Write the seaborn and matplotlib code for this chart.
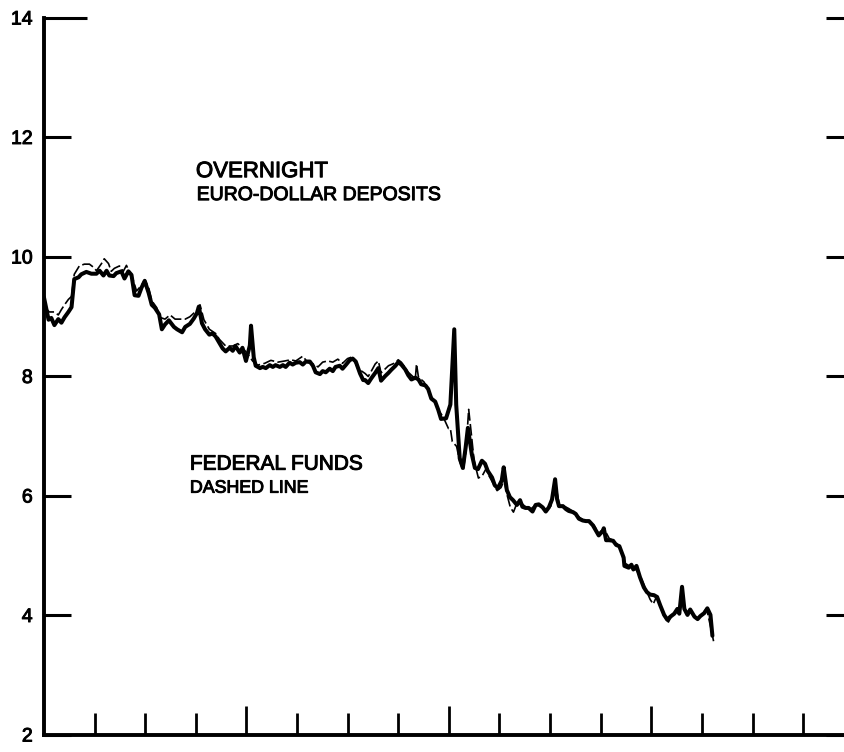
import matplotlib
matplotlib.use("Agg")
import matplotlib.pyplot as plt
import matplotlib.patheffects as pe
import pandas as pd
import seaborn as sns

# x is weeks from the start of the chart; axis ticks are quarters (13 weeks)
euro_weeks = [0.0, 1.2, 1.9, 2.7, 3.7, 4.5, 5.3, 6.3, 7.1, 7.8,
              8.9, 9.6, 10.9, 12.2, 13.5, 14.3, 15.3, 16.1, 16.8, 17.9,
              18.6, 19.9, 20.7, 21.7, 22.5, 23.3, 24.3, 25.1, 25.9, 26.9,
              27.7, 28.5, 29.6, 30.3, 31.1, 32.1, 33.4, 34.2, 35.5, 36.3,
              37.5, 38.5, 39.3, 39.8, 40.6, 41.4, 42.5, 43.3, 44.1, 45.1,
              45.9, 46.7, 47.7, 48.5, 49.2, 50.3, 51.0, 51.9, 52.9, 53.2,
              53.9, 54.4, 55.5, 56.2, 57.0, 58.0, 58.8, 59.5, 60.6, 61.4,
              62.1, 63.1, 63.9, 64.7, 65.7, 66.5, 67.3, 68.3, 69.1, 69.8,
              70.9, 71.6, 72.4, 73.4, 74.2, 74.9, 76.0, 76.7, 77.5, 78.5,
              79.3, 80.1, 81.2, 82.0, 82.5, 83.3, 84.1, 85.1, 85.9, 86.6,
              87.7, 88.5, 89.2, 90.3, 91.0, 91.8, 92.8, 93.6, 94.4, 95.4,
              96.2, 96.9, 98.0, 98.7, 99.5, 100.5, 101.3, 102.0, 103.3, 104.4,
              105.4, 105.9, 106.8, 107.6, 108.3, 108.9, 109.9, 110.7, 111.5, 112.5,
              113.3, 114.0, 115.1, 115.8, 116.6, 117.6, 118.1, 118.9, 119.7, 120.5,
              121.5, 122.3, 122.9, 123.7, 124.5, 125.5, 126.3, 127.1, 128.1, 128.9,
              129.7, 130.5, 131.3, 131.8, 132.3, 133.3, 134.1, 134.8, 135.9, 136.6,
              137.4, 138.4, 139.2, 140.0, 141.0, 141.8, 142.5, 143.6, 143.8, 144.4,
              145.2, 146.2, 147.0, 147.8, 148.9, 149.1, 150.2, 150.9, 151.4, 152.2,
              153.1, 154.1, 154.9, 155.7, 156.7, 157.5, 158.3, 159.3, 160.1, 160.9,
              161.9, 162.7, 163.2, 163.9, 164.5, 165.3, 166.0, 167.1, 167.9, 168.6,
              169.6, 170.4, 171.2, 171.7]
euro_rate = [9.33, 8.95, 8.98, 8.86, 8.96, 8.90, 8.99, 9.08, 9.16, 9.63,
             9.66, 9.71, 9.75, 9.72, 9.72, 9.77, 9.69, 9.77, 9.69, 9.68,
             9.73, 9.76, 9.64, 9.76, 9.70, 9.36, 9.35, 9.49, 9.60, 9.40,
             9.20, 9.15, 9.04, 8.79, 8.87, 8.94, 8.83, 8.79, 8.74, 8.83,
             8.88, 8.97, 9.06, 9.17, 8.89, 8.79, 8.70, 8.72, 8.67, 8.56,
             8.47, 8.42, 8.48, 8.43, 8.51, 8.40, 8.48, 8.26, 8.52, 8.85,
             8.32, 8.18, 8.14, 8.16, 8.14, 8.19, 8.16, 8.19, 8.16, 8.19,
             8.16, 8.23, 8.20, 8.23, 8.24, 8.20, 8.25, 8.25, 8.18, 8.07,
             8.04, 8.09, 8.07, 8.13, 8.09, 8.16, 8.18, 8.13, 8.19, 8.27,
             8.30, 8.25, 8.05, 7.94, 7.94, 7.89, 7.97, 8.06, 8.14, 7.93,
             8.01, 8.06, 8.11, 8.18, 8.24, 8.20, 8.12, 8.02, 7.95, 7.98,
             7.95, 7.87, 7.85, 7.79, 7.63, 7.58, 7.44, 7.29, 7.30, 7.53,
             8.79, 7.53, 6.63, 6.47, 6.80, 7.14, 6.70, 6.47, 6.45, 6.59,
             6.54, 6.42, 6.31, 6.18, 6.13, 6.26, 6.48, 6.10, 5.98, 5.93,
             5.85, 5.93, 5.82, 5.80, 5.80, 5.74, 5.85, 5.86, 5.81, 5.74,
             5.81, 5.94, 6.28, 5.95, 5.83, 5.83, 5.78, 5.75, 5.73, 5.70,
             5.62, 5.59, 5.58, 5.58, 5.51, 5.42, 5.34, 5.42, 5.46, 5.26,
             5.26, 5.25, 5.18, 5.16, 4.97, 4.83, 4.80, 4.85, 4.77, 4.83,
             4.64, 4.47, 4.39, 4.35, 4.34, 4.31, 4.17, 4.01, 3.93, 3.98,
             4.03, 4.11, 4.03, 4.48, 4.11, 4.01, 4.10, 3.98, 3.94, 3.99,
             4.04, 4.12, 4.01, 3.66]

ff_weeks = [0.1, 1.4, 2.7, 3.7, 4.5, 5.3, 6.3, 7.1, 7.8, 9.1,
            10.4, 11.7, 12.7, 13.5, 14.8, 15.5, 16.6, 17.3, 18.1, 19.4,
            20.4, 21.2, 21.9, 23.0, 23.8, 25.1, 25.9, 26.9, 27.7, 29.0,
            29.8, 31.1, 32.4, 33.7, 35.0, 36.3, 37.5, 38.5, 39.3, 40.1,
            41.1, 42.5, 44.1, 45.1, 46.7, 48.5, 49.8, 51.0, 52.3, 53.6,
            54.9, 56.7, 58.3, 60.1, 61.9, 63.4, 64.7, 66.5, 67.8, 69.1,
            70.4, 71.6, 72.9, 74.2, 75.5, 76.7, 78.0, 79.3, 80.6, 81.4,
            82.5, 83.3, 84.1, 85.1, 85.9, 86.6, 87.7, 88.5, 89.2, 90.3,
            91.0, 91.8, 92.8, 93.6, 94.4, 95.4, 95.7, 96.2, 97.6, 98.7,
            99.5, 100.5, 101.6, 102.5, 103.9, 104.4, 104.9, 106.0, 106.8, 107.7,
            108.4, 109.1, 109.7, 110.5, 111.6, 112.6, 113.6, 114.3, 115.4, 116.4,
            117.4, 118.2, 119.0, 119.8, 120.6, 121.5, 122.3, 123.7, 125.0, 126.3,
            127.6, 128.9, 130.2, 131.3, 132.3, 133.6, 134.8, 136.2, 137.4, 138.7,
            140.0, 141.3, 142.5, 143.8, 145.2, 146.5, 147.8, 149.1, 150.4, 151.7,
            153.1, 154.4, 155.7, 156.5, 157.3, 158.3, 159.3, 160.4, 161.4, 162.7,
            163.9, 165.0, 166.0, 167.1, 168.1, 169.1, 170.2, 171.2, 172.0]
ff_rate = [9.16, 9.08, 9.08, 9.03, 9.12, 9.20, 9.29, 9.34, 9.71, 9.85,
           9.88, 9.88, 9.83, 9.77, 9.89, 9.97, 9.89, 9.76, 9.81, 9.85,
           9.76, 9.86, 9.76, 9.60, 9.43, 9.53, 9.62, 9.49, 9.27, 9.15,
           8.99, 8.96, 9.03, 8.96, 8.96, 8.96, 9.00, 9.06, 9.09, 9.20,
           8.95, 8.79, 8.72, 8.62, 8.51, 8.51, 8.55, 8.48, 8.38, 8.26,
           8.19, 8.22, 8.27, 8.24, 8.26, 8.28, 8.26, 8.34, 8.23, 8.21,
           8.16, 8.24, 8.26, 8.24, 8.29, 8.22, 8.30, 8.33, 8.14, 8.10,
           8.05, 8.00, 8.09, 8.21, 8.26, 8.06, 8.13, 8.18, 8.20, 8.23,
           8.28, 8.24, 8.15, 8.07, 8.02, 7.96, 8.21, 7.99, 7.91, 7.79,
           7.66, 7.58, 7.41, 7.33, 7.13, 7.13, 6.91, 6.83, 6.58, 6.42,
           6.75, 7.45, 7.09, 6.59, 6.30, 6.34, 6.46, 6.34, 6.21, 6.09,
           6.14, 6.26, 6.01, 5.81, 5.73, 5.88, 5.90, 5.82, 5.78, 5.85,
           5.83, 5.76, 5.83, 6.24, 5.88, 5.83, 5.79, 5.73, 5.65, 5.59,
           5.56, 5.51, 5.37, 5.46, 5.29, 5.25, 5.16, 4.88, 4.83, 4.80,
           4.67, 4.47, 4.27, 4.19, 4.31, 4.17, 3.98, 3.89, 4.01, 4.06,
           4.18, 4.04, 4.06, 3.98, 3.95, 4.02, 4.12, 3.82, 3.57]

y_ticks = [2, 4, 6, 8, 10, 12, 14]
year_ticks = [52, 104, 156]
quarter_ticks = [13, 26, 39, 65, 78, 91, 117, 130, 143, 169, 182, 195]

sns.set_theme(style="white")
plt.rcParams["font.family"] = ["Liberation Sans", "DejaVu Sans"]

fig = plt.figure(figsize=(8.44, 7.52), dpi=100)
ax = fig.add_axes([0.052, 0.0226, 0.948, 0.9535])

euro = pd.DataFrame({"week": euro_weeks, "rate": euro_rate})
ff = pd.DataFrame({"week": ff_weeks, "rate": ff_rate})

sns.lineplot(data=euro, x="week", y="rate", color="black", linewidth=2.9,
             estimator=None, sort=False, ax=ax)
sns.lineplot(data=ff, x="week", y="rate", color="black", linewidth=1.2,
             estimator=None, sort=False, ax=ax)
ax.lines[-1].set_dashes([7, 2])

ax.set_xlim(0, 205.5)
ax.set_ylim(2, 14)
ax.set_xlabel("")
ax.set_ylabel("")

ax.set_xticks(year_ticks)
ax.set_xticks(quarter_ticks, minor=True)
ax.tick_params(axis="x", which="major", direction="in", length=21, width=2.0,
               color="black", labelbottom=False, bottom=True)
ax.tick_params(axis="x", which="minor", direction="in", length=16, width=2.0,
               color="black", bottom=True)

ax.set_yticks(y_ticks)
ax.tick_params(axis="y", which="major", direction="in", length=19.5, width=2.2,
               color="black", left=True, right=True, labelsize=14, pad=8,
               labelcolor="black")
for t in ax.yaxis.get_major_ticks():
    t.tick2line.set_markersize(13)
ax.yaxis.get_major_ticks()[-1].tick1line.set_markersize(31)

# the scanned lettering is heavier than a plain regular face
ink = [pe.withStroke(linewidth=0.7, foreground="black")]
for lbl in ax.get_yticklabels():
    lbl.set_path_effects(ink)

for side in ["top", "right"]:
    ax.spines[side].set_visible(False)
for side in ["left", "bottom"]:
    ax.spines[side].set_color("black")
    ax.spines[side].set_linewidth(2.8)

ax.text(0.19, 0.778, "OVERNIGHT", transform=ax.transAxes, fontsize=16,
        va="baseline", color="black", path_effects=ink)
ax.text(0.191, 0.746, "EURO-DOLLAR DEPOSITS", transform=ax.transAxes,
        fontsize=14, va="baseline", color="black", path_effects=ink)
ax.text(0.1825, 0.37, "FEDERAL FUNDS", transform=ax.transAxes, fontsize=15,
        va="baseline", color="black", path_effects=ink)
ax.text(0.1825, 0.338, "DASHED LINE", transform=ax.transAxes, fontsize=12.8,
        va="baseline", color="black", path_effects=ink)

fig.savefig("out.png", dpi=100)
